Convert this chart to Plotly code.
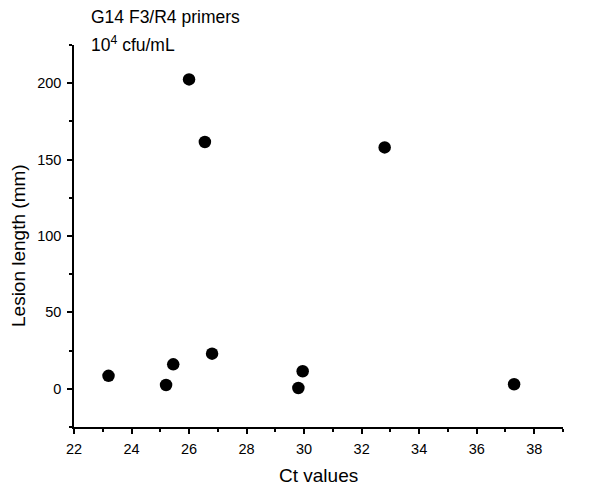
import plotly.graph_objects as go

ct_values = [23.2, 25.2, 25.45, 26.0, 26.55, 26.8, 29.8, 29.95, 32.8, 37.3]
lesion_mm = [8.5, 2.5, 16.0, 202.5, 161.5, 23.0, 0.5, 11.5, 158.0, 3.0]

title_line1 = "G14 F3/R4 primers"
title_line2 = "10<sup>4</sup> cfu/mL"
x_title = "Ct values"
y_title = "Lesion length (mm)"

FONT = "Arial, Liberation Sans, sans-serif"

fig = go.Figure()
fig.add_trace(go.Scatter(
    x=ct_values, y=lesion_mm, mode="markers",
    marker=dict(color="black", size=12.5, line=dict(width=0)),
    showlegend=False,
))

axis_common = dict(
    showline=True, linecolor="black", linewidth=1.5,
    ticks="outside", ticklen=5, tickwidth=1.5, tickcolor="black",
    showgrid=False, zeroline=False, mirror=False, automargin=False,
    tickfont=dict(family=FONT, size=14.5, color="black"),
)

fig.update_xaxes(
    range=[22, 39], tick0=22, dtick=2, ticklabelstandoff=3,
    minor=dict(ticks="outside", ticklen=3, tickwidth=1.5, tickcolor="black", dtick=1, showgrid=False),
    **axis_common,
)
fig.update_yaxes(
    range=[-25, 225], tick0=0, dtick=50, ticklabelstandoff=3,
    minor=dict(ticks="outside", ticklen=3, tickwidth=1.5, tickcolor="black", dtick=25, tick0=0, showgrid=False),
    **axis_common,
)

# axis titles as annotations (fixed positions)
fig.add_annotation(text=x_title, xref="paper", yref="paper", x=0.5, y=0,
                   yshift=-48, xanchor="center", yanchor="middle", showarrow=False,
                   font=dict(family=FONT, size=19, color="black"))
fig.add_annotation(text=y_title, xref="paper", yref="paper", x=0, y=0.5,
                   xshift=-56, yshift=-10, xanchor="center", yanchor="middle", showarrow=False,
                   textangle=-90, font=dict(family=FONT, size=19, color="black"))

fig.add_annotation(text=title_line1, xref="paper", yref="paper", x=0.03, y=1.0,
                   yshift=28, xanchor="left", yanchor="middle", showarrow=False,
                   font=dict(family=FONT, size=17.5, color="black"))
fig.add_annotation(text=title_line2, xref="paper", yref="paper", x=0.03, y=1.0,
                   yshift=1, xanchor="left", yanchor="middle", showarrow=False,
                   font=dict(family=FONT, size=17.5, color="black"))

fig.update_layout(
    width=595, height=491,
    margin=dict(l=74, r=32, t=45, b=64),
    plot_bgcolor="white", paper_bgcolor="white",
    font=dict(family=FONT, color="black"),
)

fig.write_html("out.html")
